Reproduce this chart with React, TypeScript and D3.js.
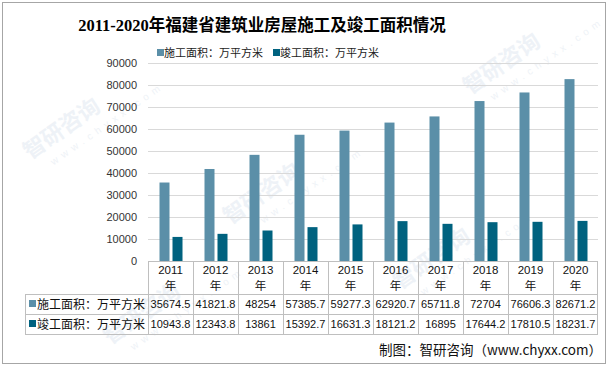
import * as d3 from 'd3'

const years = ['2011', '2012', '2013', '2014', '2015', '2016', '2017', '2018', '2019', '2020']
const construction = [35674.5, 41821.8, 48254, 57385.7, 59277.3, 62920.7, 65711.8, 72704, 76606.3, 82671.2]
const completed = [10943.8, 12343.8, 13861, 15392.7, 16631.3, 18121.2, 16895, 17644.2, 17810.5, 18231.7]
const constructionLabels = ['35674.5', '41821.8', '48254', '57385.7', '59277.3', '62920.7', '65711.8', '72704', '76606.3', '82671.2']
const completedLabels = ['10943.8', '12343.8', '13861', '15392.7', '16631.3', '18121.2', '16895', '17644.2', '17810.5', '18231.7']
const seriesNames = ['施工面积：万平方米', '竣工面积：万平方米']
const yTicks = [0, 10000, 20000, 30000, 40000, 50000, 60000, 70000, 80000, 90000]

const W = 608, H = 366
const left = 148, right = 598, top = 63, bottom = 261
const colors = ['#5b8fa8', '#00627f']
const font = "'Noto Sans CJK SC', sans-serif"
const numFont = "'Liberation Sans', 'Noto Sans CJK SC', sans-serif"

export default function App() {
    const x = d3.scaleBand<string>().domain(years).range([left, right])
    const y = d3.scaleLinear().domain([0, 90000]).range([bottom, top])
    const barW = 10
    const rowY = [294, 314, 334]
    const wm = [[30, 160], [230, 225], [470, 95], [110, 345], [400, 290]]

    return (
        <svg width={W} height={H} style={{ position: 'absolute', left: 0, top: 0 }}>
            <rect x={0} y={0} width={W} height={H} fill="#fff" />
            <rect x={2.5} y={2.5} width={W - 5} height={H - 5} fill="none" stroke="#a6a6a6" />
            {wm.map(([wx, wy], i) => (
                <g key={i} transform={`translate(${wx},${wy}) rotate(-35)`} opacity={0.3}>
                    <text fontSize={22} fontWeight="bold" fill="#c9d6e6" fontFamily={font}>智研咨询</text>
                    <text y={18} x={16} fontSize={10} fill="#c9d6e6" fontFamily="'Liberation Sans'" letterSpacing={5}>www.chyxx.com</text>
                </g>
            ))}
            <text x={262} y={31} textAnchor="middle" fontSize={16.5} fontWeight="bold"
                fontFamily="'Liberation Serif', 'Noto Sans CJK SC', serif" fill="#000">
                2011-2020年福建省建筑业房屋施工及竣工面积情况
            </text>
            {seriesNames.map((n, i) => (
                <g key={n} transform={`translate(157,53)`}>
                    <rect x={i * 116} y={-4} width={7} height={7} fill={colors[i]} />
                    <text x={i * 116 + 7} y={4} fontSize={11} fontFamily={font} fill="#222">{n}</text>
                </g>
            ))}
            {yTicks.map(t => (
                <g key={t}>
                    {t > 0 && <line x1={left} x2={right} y1={y(t) + 0.5} y2={y(t) + 0.5} stroke="#d9d9d9" />}
                    <text x={137} y={y(t) + 4} textAnchor="end" fontSize={11} fontFamily={numFont} fill="#333">{t}</text>
                </g>
            ))}
            {years.map((yr, i) => {
                const c = (x(yr) ?? 0) + x.bandwidth() / 2
                return (
                    <g key={yr}>
                        <rect x={c - barW - 1} y={y(construction[i])} width={barW} height={bottom - y(construction[i])} fill={colors[0]} />
                        <rect x={c + 2} y={y(completed[i])} width={barW} height={bottom - y(completed[i])} fill={colors[1]} />
                        <text x={c} y={274} textAnchor="middle" fontSize={11.5} fontFamily={numFont} fill="#111">{yr}</text>
                        <text x={c} y={290} textAnchor="middle" fontSize={11.5} fontFamily={font} fill="#111">年</text>
                        <text x={c} y={308} textAnchor="middle" fontSize={11} fontFamily={numFont} fill="#111">{constructionLabels[i]}</text>
                        <text x={c} y={328} textAnchor="middle" fontSize={11} fontFamily={numFont} fill="#111">{completedLabels[i]}</text>
                    </g>
                )
            })}
            <g stroke="#bfbfbf" fill="none">
                <line x1={left} x2={right} y1={bottom + 0.5} y2={bottom + 0.5} />
                {rowY.map(ry => <line key={ry} x1={25} x2={right} y1={ry + 0.5} y2={ry + 0.5} />)}
                <line x1={25.5} x2={25.5} y1={rowY[0]} y2={rowY[2]} />
                {years.map(yr => <line key={yr} x1={(x(yr) ?? 0) + 0.5} x2={(x(yr) ?? 0) + 0.5} y1={bottom} y2={rowY[2]} />)}
                <line x1={right - 0.5} x2={right - 0.5} y1={bottom} y2={rowY[2]} />
            </g>
            {seriesNames.map((n, i) => (
                <g key={n} transform={`translate(29,${rowY[i] + 10})`}>
                    <rect x={0} y={-4} width={7} height={7} fill={colors[i]} />
                    <text x={8} y={5} fontSize={12} fontFamily={font} fill="#111">{n}</text>
                </g>
            ))}
            <text x={602} y={355} textAnchor="end" fontSize={13.5} fontFamily={font} fill="#111">制图：智研咨询（www.chyxx.com）</text>
        </svg>
    )
}
